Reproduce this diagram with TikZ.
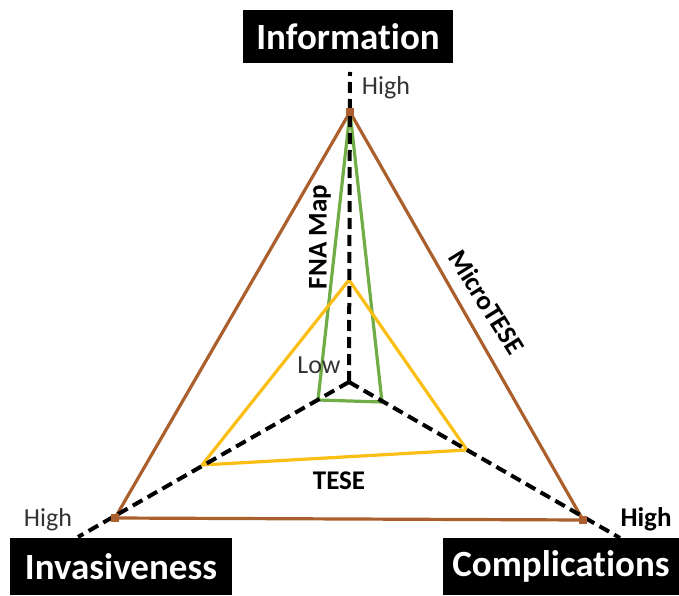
\documentclass[tikz,border=0pt]{standalone}
\usepackage{fontspec}
\setmainfont[Ligatures=NoCommon]{Carlito}
\usepackage{tikz}
\usetikzlibrary{positioning}
\definecolor{rimbrown}{RGB}{170,95,45}
\definecolor{fnagreen}{RGB}{112,173,71}
\definecolor{tesegold}{RGB}{250,190,20}
\tikzset{
  axis/.style={draw=black, line width=4pt, dash pattern=on 11pt off 6pt},
  tech/.style={line width=3.2pt, line join=round},
  vmark/.style={fill=rimbrown, minimum size=8pt, inner sep=0pt},
  dimbox/.style={fill=black, text=white, font=\fontsize{37}{40}\selectfont\bfseries, inner sep=0pt},
  lvl/.style={font=\fontsize{26}{28}\selectfont, text=black!80},
  tname/.style={font=\fontsize{27}{29}\selectfont\bfseries}
}

\begin{document}
\begin{tikzpicture}[x=1pt, y=1pt]
\useasboundingbox (0,0) rectangle (679,595);
% axes
\coordinate (c) at (349,213);
\coordinate (infoend) at (350,523);
\coordinate (invend) at (78,58);
\coordinate (compend) at (620,57);
% outer triangle
\coordinate (t) at (350,483);
\coordinate (l) at (115,77);
\coordinate (r) at (583,75);
% FNA map
\coordinate (g2) at (318,195); \coordinate (g3) at (382,193);
% TESE
\coordinate (y1) at (349,315); \coordinate (y2) at (202,130); \coordinate (y3) at (467,145);
\draw[tech, rimbrown] (t) -- (l) -- (r) -- cycle;
\draw[tech, fnagreen] (t) -- (g2) -- (g3) -- cycle;
\draw[tech, tesegold] (y1) -- (y2) -- (y3) -- cycle;
\draw[axis] (c) -- (infoend); \draw[axis] (c) -- (invend); \draw[axis] (c) -- (compend);
\node[vmark] (mt) at (t) {}; \node[vmark] (ml) at (l) {}; \node[vmark] (mr) at (r) {};
% dimension boxes
\node[dimbox, minimum width=210pt, minimum height=53pt] (info) at (348,558.5) {Information};
\node[dimbox, minimum width=222pt, minimum height=57pt] (inv) at (121,28.5) {Invasiveness};
\node[dimbox, minimum width=236pt, minimum height=57pt] (comp) at (561,28.5) {Complications};
% levels
\node[lvl] (hightop) at (386,507) {High};
\node[lvl] (highleft) at (48,75) {High};
\node[lvl, text=black, font=\fontsize{27}{29}\selectfont\bfseries] (highright) at (646,76) {High};
\node[lvl] (low) at (319,230) {Low};
% techniques
\node[tname, rotate=90] (fna) at (320,358) {FNA Map};
\node[tname, rotate=-58] (micro) at (487,293) {MicroTESE};
\node[tname] (tese) at (339,114) {TESE};
\end{tikzpicture}
\end{document}
